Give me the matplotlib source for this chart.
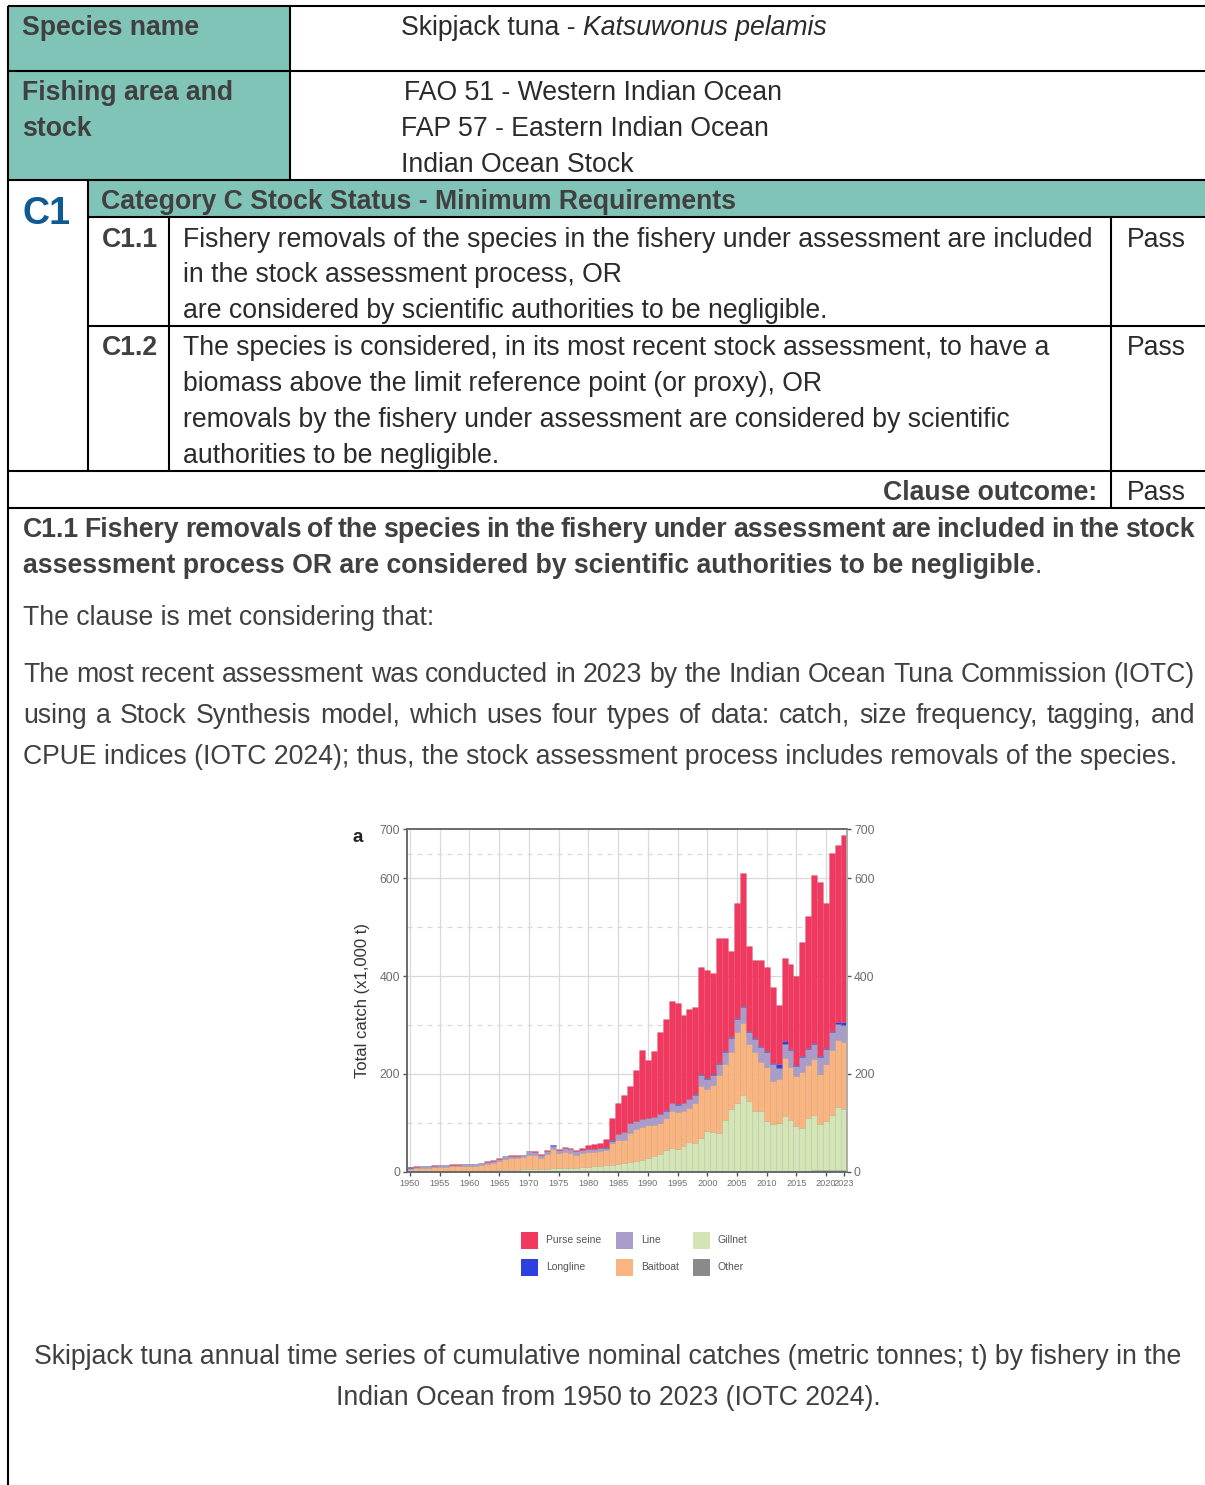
import numpy as np
import matplotlib
matplotlib.use("Agg")
import matplotlib.pyplot as plt
from matplotlib import font_manager
from matplotlib.patches import Rectangle
from matplotlib.transforms import ScaledTranslation

# catch by gear, 1000 t
years = list(range(1950, 2024))
other = [1, 1, 1, 1, 1, 1, 1, 1, 1, 1,
         1, 1, 1, 1, 1, 1, 1, 1, 1, 1,
         1, 1, 1, 1, 1, 1, 1, 1, 1, 1,
         1, 1, 1, 1, 1, 1, 1, 1, 1, 1,
         1, 1, 2, 2, 2, 2, 2, 2, 2, 2,
         2, 2, 2, 2, 2, 2, 2, 2, 2, 2,
         2, 2, 2, 2, 2, 2, 2, 2, 4, 4,
         4, 4, 4, 4]
gillnet = [1, 1, 1, 1, 1, 1, 1, 1, 2, 2,
           2, 2, 2, 2, 3, 3, 4, 4, 4, 5,
           5, 5, 5, 6, 7, 7, 8, 8, 8, 9,
           9, 11, 12, 13, 14, 15, 17, 19, 21, 24,
           28, 31, 34, 43, 48, 44, 51, 60, 58, 68,
           81, 79, 78, 105, 126, 139, 156, 143, 122, 122,
           102, 95, 98, 112, 105, 92, 88, 108, 113, 93,
           100, 113, 128, 124]
baitboat = [4, 6, 7, 7, 8, 9, 9, 10, 9, 10,
            10, 10, 12, 14, 15, 19, 22, 23, 23, 24,
            29, 28, 23, 29, 38, 30, 32, 30, 26, 28,
            30, 29, 29, 30, 45, 49, 48, 60, 66, 67,
            66, 63, 64, 65, 75, 76, 72, 68, 80, 105,
            87, 97, 118, 113, 117, 144, 147, 117, 121, 101,
            111, 88, 90, 118, 108, 101, 115, 108, 113, 103,
            116, 131, 138, 137]
line = [3, 3, 3, 3, 3, 3, 3, 3, 3, 3,
        3, 3, 3, 4, 4, 4, 5, 5, 5, 5,
        7, 7, 6, 7, 8, 7, 8, 8, 7, 7,
        6, 6, 6, 6, 4, 13, 15, 20, 16, 16,
        15, 17, 18, 15, 15, 15, 15, 18, 18, 23,
        20, 20, 22, 24, 28, 27, 31, 23, 27, 30,
        29, 35, 22, 30, 35, 22, 29, 33, 31, 34,
        31, 37, 32, 35]
longline = [0.2, 0.2, 0.2, 0.2, 0.2, 0.2, 0.2, 0.2, 0.2, 0.2,
            0.2, 0.2, 0.2, 0.2, 0.2, 0.2, 0.2, 0.2, 0.2, 0.2,
            0.3, 0.3, 0.3, 0.3, 0.3, 0.3, 0.3, 0.3, 0.3, 0.3,
            0.5, 0.5, 0.5, 0.5, 0.5, 0.5, 0.5, 0.5, 0.5, 0.5,
            1, 1, 1, 1, 1, 1, 1, 1, 1, 1,
            2, 2, 2, 2, 3, 3, 3, 2, 2, 2,
            2, 3, 8, 5, 2, 2, 2, 2, 2, 2,
            3, 3, 5, 6]
purse_seine = [0.5, 0.5, 0.5, 0.5, 0.5, 0.5, 0.5, 0.5, 0.5, 0.5,
               0.5, 0.5, 0.5, 0.5, 0.5, 0.5, 0.5, 0.5, 0.5, 0.5,
               1, 1, 1, 1, 1, 1, 1, 2, 3, 4,
               8, 10, 11, 17, 45, 63, 75, 76, 103, 141,
               118, 134, 167, 187, 208, 206, 180, 184, 178, 220,
               221, 206, 256, 232, 175, 235, 271, 174, 159, 176,
               173, 155, 120, 169, 173, 181, 233, 270, 343, 355,
               294, 363, 360, 382]

gear_names = ["Other", "Gillnet", "Baitboat", "Line", "Longline", "Purse seine"]
gear_colors = ["#8a8a8a", "#d3e4b5", "#f9b47f", "#a99ccb", "#2e3fe0", "#f2385e"]

W, H = 1205, 1485
fig = plt.figure(figsize=(W / 100, H / 100), dpi=100)
doc = fig.add_axes([0, 0, 1, 1])
doc.set_xlim(0, W)
doc.set_ylim(H, 0)
doc.axis("off")
rend = fig.canvas.get_renderer()

names = {f.name for f in font_manager.fontManager.ttflist}
face = "Liberation Sans Narrow" if "Liberation Sans Narrow" in names else "Liberation Sans"
dy = 2  # text sits a touch low in the document


def width(s, **kw):
    t = doc.text(0, 0, s, **kw)
    w = t.get_window_extent(rend).width
    t.remove()
    return w


def space(**kw):
    return width("a a", **kw) - width("aa", **kw)


# size the body font so a table line is as wide as in the document
fs = 20 * 909 / width("Fishery removals of the species in the fishery under assessment are included",
                      family=face, size=20)
txt = dict(family=face, size=fs, color="#2b2b2b")
bold = dict(txt, weight="bold", color="#404040")


def put(x, y, s, kw, **extra):
    k = dict(kw)
    k.update(extra)
    doc.text(x, y + dy, s, va="center", **k)


def pieces(x, y, parts):
    for s, kw in parts:
        if s == " ":
            x += space(**kw)
            continue
        doc.text(x, y + dy, s, ha="left", va="center", **kw)
        x += width(s, **kw)


def justify(x0, x1, y, s, kw):
    words = s.split()
    ws = [width(w, **kw) for w in words]
    gap = (x1 - x0 - sum(ws)) / (len(words) - 1)
    x = x0
    for w, wd in zip(words, ws):
        doc.text(x, y + dy, w, ha="left", va="center", **kw)
        x += wd + gap


# table frame
teal = "#80c4b7"
for r in [(8, 6, 282, 65), (8, 71, 282, 109), (88, 180, W - 88, 37)]:
    doc.add_patch(Rectangle((r[0], r[1]), r[2], r[3], color=teal, lw=0))
lw = 1.5
for y, x0 in [(6, 8), (71, 8), (180, 8), (217, 88), (326, 88), (471, 8), (508, 8)]:
    doc.plot([x0, W], [y, y], color="black", lw=lw, solid_capstyle="butt")
for x, y0, y1 in [(8, 6, H), (290, 6, 180), (88, 180, 471), (169, 217, 471), (1111, 217, 508)]:
    doc.plot([x, x], [y0, y1], color="black", lw=lw, solid_capstyle="butt")

put(22, 26, "Species name", bold)
pieces(401, 26, [("Skipjack tuna -", txt), (" ", txt),
                 ("Katsuwonus pelamis", dict(txt, style="italic"))])
put(22, 91, "Fishing area and", bold)
put(22, 127, "stock", bold)
put(404, 91, "FAO 51 - Western Indian Ocean", txt)
put(401, 127, "FAP 57 - Eastern Indian Ocean", txt)
put(401, 163, "Indian Ocean Stock", txt)

c1 = 33 * 48 / width("C1", family=face, size=33, weight="bold")
put(22, 212, "C1", bold, size=c1, color="#0f5a93")
put(101, 200, "Category C Stock Status - Minimum Requirements", bold)

put(102, 238, "C1.1", bold)
put(183, 238, "Fishery removals of the species in the fishery under assessment are included", txt)
put(183, 273, "in the stock assessment process, OR", txt)
put(183, 309, "are considered by scientific authorities to be negligible.", txt)
put(1127, 238, "Pass", txt)
put(102, 346, "C1.2", bold)
put(183, 346, "The species is considered, in its most recent stock assessment, to have a", txt)
put(183, 382, "biomass above the limit reference point (or proxy), OR", txt)
put(183, 418, "removals by the fishery under assessment are considered by scientific", txt)
put(183, 454, "authorities to be negligible.", txt)
put(1127, 346, "Pass", txt)
put(1097, 491, "Clause outcome:", bold, ha="right")
put(1127, 491, "Pass", txt)

body = dict(txt, color="#404040")
justify(23, 1195, 528, "C1.1 Fishery removals of the species in the fishery under assessment "
        "are included in the stock", bold)
pieces(23, 564, [("assessment process OR are considered by scientific authorities to be negligible", bold),
                 (".", body)])
put(23, 616, "The clause is met considering that:", body)
justify(23, 1195, 673, "The most recent assessment was conducted in 2023 by the Indian Ocean "
        "Tuna Commission (IOTC)", body)
justify(23, 1195, 714, "using a Stock Synthesis model, which uses four types of data: catch, "
        "size frequency, tagging, and", body)
put(23, 755, "CPUE indices (IOTC 2024); thus, the stock assessment process includes removals "
    "of the species.", body)
put(608, 1355, "Skipjack tuna annual time series of cumulative nominal catches (metric tonnes; t) "
    "by fishery in the", body, ha="center")
put(608, 1396, "Indian Ocean from 1950 to 2023 (IOTC 2024).", body, ha="center")

# catch chart
ax = fig.add_axes([407 / W, 1 - 1172 / H, 440 / W, 343 / H])
series = [other, gillnet, baitboat, line, longline, purse_seine]
base = np.zeros(len(years))
for vals, col in zip(series, gear_colors):
    ax.bar(years, vals, 1.0, bottom=base, color=col, edgecolor=(0, 0, 0, 0.13),
           linewidth=0.4, zorder=2)
    base += np.array(vals)

ax.set_xlim(1949.5, 2023.5)
ax.set_ylim(0, 700)
for yr in range(1950, 2021, 5):
    ax.axvline(yr, color="#d9d9d9", lw=0.9, zorder=0)
for v in [200, 400, 600]:
    ax.axhline(v, color="#d9d9d9", lw=0.9, zorder=0)
for v in [100, 300, 500, 650]:
    ax.axhline(v, color="#d9d9d9", lw=0.9, ls=(0, (4, 4)), zorder=0)

chart_font = "Liberation Sans"
grey = "#6e6e6e"
xt = list(range(1950, 2021, 5)) + [2023]
ax.set_xticks(xt)
ax.set_xticklabels([str(t) for t in xt], family=chart_font, size=6.6, color=grey)
# 2020 and 2023 sit close together; nudge them apart so they just touch
labs = ax.get_xticklabels()
for lab, shift in [(labs[-2], -2.5), (labs[-1], 2.5)]:
    lab.set_transform(lab.get_transform() + ScaledTranslation(shift / 100, 0, fig.dpi_scale_trans))
yt = [0, 200, 400, 600, 700]
ax.set_yticks(yt)
ax.set_yticklabels([str(t) for t in yt], family=chart_font, size=8.8, color=grey)
ax.tick_params(direction="out", length=3, width=1, color="#555555", pad=2)
ax2 = ax.twinx()
ax2.set_ylim(0, 700)
ax2.set_yticks(yt)
ax2.set_yticklabels([str(t) for t in yt], family=chart_font, size=8.8, color=grey)
ax2.tick_params(direction="out", length=3, width=1, color="#555555", pad=2)
for a in (ax, ax2):
    for side in a.spines.values():
        side.set_color("#666666")
        side.set_linewidth(1.1)
ax2.spines["right"].set_color("#bbbbbb")

doc.text(362, 1000, "Total catch (x1,000 t)", rotation=90, ha="center", va="center",
         family=chart_font, size=12, color="#333333")
doc.text(358, 838, "a", ha="center", va="center", family=chart_font, size=13.5,
         weight="bold", color="#222222")

# legend, laid out as in the figure: three columns of two
leg_x = [521, 521, 616, 616, 693, 693]
leg_y = [1240, 1267, 1240, 1267, 1240, 1267]
for k, i in enumerate([5, 4, 3, 2, 1, 0]):
    doc.add_patch(Rectangle((leg_x[k], leg_y[k] - 8.5), 17, 17, color=gear_colors[i], lw=0))
    doc.text(leg_x[k] + 25, leg_y[k], gear_names[i], ha="left", va="center",
             family=chart_font, size=7.5, color="#555555")

fig.savefig("out.png", dpi=100)
